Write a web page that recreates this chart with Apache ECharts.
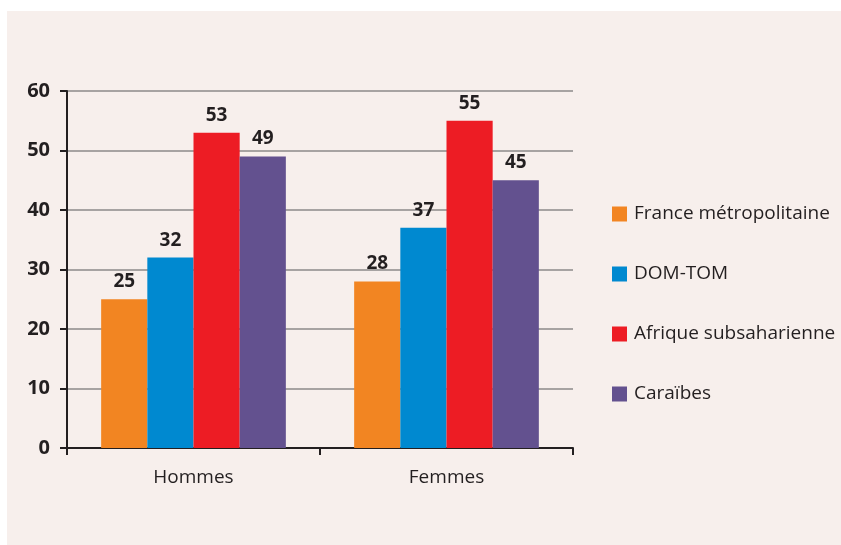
<!DOCTYPE html>
<html>
<head>
<meta charset="utf-8">
<script src="https://cdn.jsdelivr.net/npm/echarts@6/dist/echarts.min.js"></script>
<style>
  html, body { margin: 0; padding: 0; background: #ffffff; overflow: hidden; }
  #panel { position: absolute; left: 7px; top: 11px; width: 834px; height: 534px; background: #f7efec; }
  #chart { position: absolute; left: 0; top: 0; width: 841px; height: 545px; }
</style>
</head>
<body>
<div id="panel"></div>
<div id="chart"></div>
<script>
  const categories = ['Hommes', 'Femmes'];
  const seriesNames = ['France métropolitaine', 'DOM-TOM', 'Afrique subsaharienne', 'Caraïbes'];
  const franceMetro = [25, 28];
  const domTom = [32, 37];
  const afrique = [53, 55];
  const caraibes = [49, 45];
  const colors = ['#f28522', '#0089d0', '#ed1c24', '#63518f'];

  const font = '"Open Sans", "Noto Sans", sans-serif';
  const values = [franceMetro, domTom, afrique, caraibes];

  const chart = echarts.init(document.getElementById('chart'));
  chart.setOption({
    backgroundColor: 'transparent',
    animation: false,
    textStyle: { fontFamily: font },
    grid: { left: 67, right: 268, top: 91, bottom: 97 },
    legend: {
      orient: 'vertical',
      left: 607,
      top: 199,
      itemWidth: 15,
      itemHeight: 15,
      itemGap: 40,
      icon: 'rect',
      textStyle: { fontSize: 19, lineHeight: 20, color: '#231f20', fontFamily: font, padding: [0, 0, 0, 2] },
      data: seriesNames
    },
    xAxis: {
      type: 'category',
      data: categories,
      axisLine: { lineStyle: { color: '#231f20', width: 2 } },
      axisTick: { show: true, length: 7, lineStyle: { color: '#231f20', width: 2 } },
      axisLabel: { fontSize: 19, color: '#231f20', margin: 20 }
    },
    yAxis: {
      type: 'value',
      min: 0,
      max: 60,
      interval: 10,
      axisLine: { show: true, lineStyle: { color: '#231f20', width: 2 } },
      axisTick: { show: true, length: 7, lineStyle: { color: '#231f20', width: 2 } },
      axisLabel: { fontSize: 20, fontWeight: 'bold', color: '#231f20', margin: 17 },
      splitLine: { lineStyle: { color: '#8c8a8a', width: 1.5 } }
    },
    series: seriesNames.map((name, i) => ({
      name: name,
      type: 'bar',
      data: values[i],
      barGap: 0,
      barCategoryGap: '27%',
      itemStyle: { color: colors[i] },
      label: {
        show: true,
        position: 'top',
        distance: 8,
        fontSize: 19,
        fontWeight: 'bold',
        color: '#231f20'
      }
    }))
  });
</script>
</body>
</html>
